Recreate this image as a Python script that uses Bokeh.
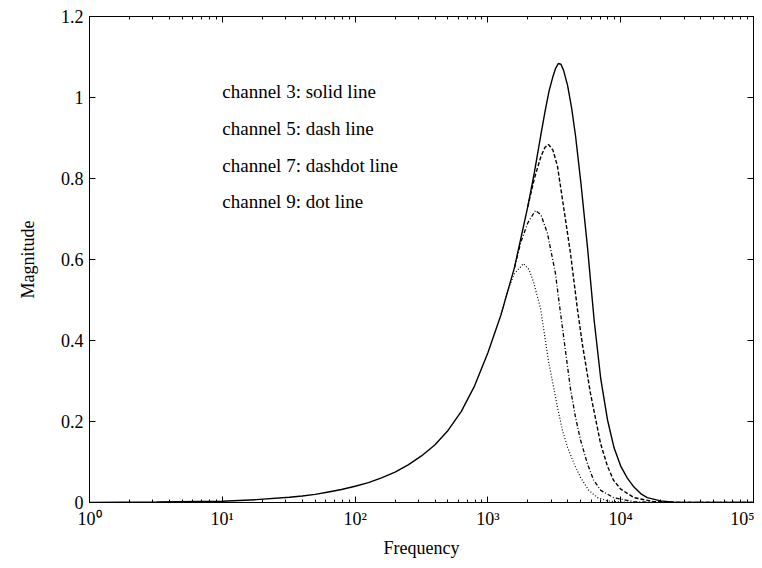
from bokeh.plotting import figure
from bokeh.models import LogAxis, LinearAxis, FixedTicker, LogTicker, CustomJSTickFormatter, Label
from bokeh.embed import file_html
from bokeh.resources import INLINE

# ---- data ----
ch3_freq = [1, 3.2, 10, 18, 32, 40, 50, 63, 79, 100, 126, 158, 200, 251, 316, 398, 501,
            631, 794, 1000, 1259, 1585, 1995, 2239, 2512, 2692, 2884, 3090, 3236, 3388,
            3548, 3715, 3981, 4266, 4571, 5012, 5623, 6310, 7079, 7943, 8913, 10000, 11220,
            12589, 14125, 15849, 19953, 25119, 39811, 100000]
ch3_mag = [0.0004, 0.0012, 0.003, 0.007, 0.013, 0.016, 0.02, 0.026, 0.032, 0.04, 0.049,
           0.061, 0.075, 0.093, 0.115, 0.142, 0.178, 0.225, 0.288, 0.37, 0.465, 0.58, 0.73,
           0.815, 0.91, 0.965, 1.015, 1.052, 1.072, 1.084, 1.082, 1.067, 1.03, 0.975, 0.905,
           0.79, 0.63, 0.45, 0.305, 0.205, 0.135, 0.09, 0.06, 0.038, 0.022, 0.012, 0.004,
           0.001, 0.0, 0.0]

ch5_freq = [1995, 2239, 2512, 2692, 2858, 3090, 3342, 3715, 4188, 4732, 5152, 5916, 7047,
            7943, 8831, 10000, 12589, 17783, 31623, 100000]
ch5_mag = [0.73, 0.80, 0.855, 0.877, 0.884, 0.87, 0.83, 0.73, 0.615, 0.475, 0.39, 0.27,
           0.146, 0.09, 0.055, 0.033, 0.012, 0.002, 0.0, 0.0]

ch7_freq = [1585, 1778, 1995, 2280, 2512, 2812, 3228, 3388, 3715, 4188, 4571, 4977, 5623,
            6237, 7079, 8831, 12589, 19953, 100000]
ch7_mag = [0.58, 0.645, 0.69, 0.721, 0.71, 0.664, 0.565, 0.51, 0.41, 0.28, 0.21, 0.155,
           0.095, 0.056, 0.03, 0.012, 0.002, 0.0, 0.0]

ch9_freq = [1259, 1413, 1585, 1854, 2042, 2203, 2489, 2858, 3342, 3631, 3981, 4467, 4977,
            5754, 6683, 7943, 10000, 15849, 100000]
ch9_mag = [0.465, 0.525, 0.565, 0.590, 0.575, 0.545, 0.48, 0.35, 0.235, 0.18, 0.136, 0.095,
           0.062, 0.03, 0.012, 0.004, 0.001, 0.0, 0.0]

x_ticks = [1, 10, 100, 1000, 10000, 100000]
x_tick_labels = ["10\u2070", "10\u00b9", "10\u00b2", "10\u00b3", "10\u2074", "10\u2075"]
y_ticks = [0, 0.2, 0.4, 0.6, 0.8, 1.0, 1.2]
y_tick_labels = ["0", "0.2", "0.4", "0.6", "0.8", "1", "1.2"]
legend_texts = ["channel 3: solid line", "channel 5: dash line",
                "channel 7: dashdot line", "channel 9: dot line"]

FONT = "Liberation Serif"

p = figure(width=754, height=564, x_axis_type="log", x_range=(1, 1e5), y_range=(0, 1.2),
           output_backend="svg", toolbar_location=None,
           x_axis_label="Frequency", y_axis_label="Magnitude",
           min_border_left=89, min_border_right=1, min_border_top=16, min_border_bottom=62)
p.grid.visible = False
p.outline_line_color = "black"
p.background_fill_color = "white"
p.border_fill_color = "white"

fmt_code = """
for (let i = 0; i < vals.length; i++) {
  if (Math.abs(tick - vals[i]) <= 1e-9 * Math.max(1, Math.abs(vals[i]))) return labels[i];
}
return '';
"""
x_fmt = CustomJSTickFormatter(args=dict(vals=x_ticks, labels=x_tick_labels), code=fmt_code)
y_fmt = CustomJSTickFormatter(args=dict(vals=y_ticks, labels=y_tick_labels), code=fmt_code)

x_ticker = LogTicker(num_minor_ticks=10)
y_ticker = FixedTicker(ticks=y_ticks)

p.xaxis.ticker = x_ticker
p.xaxis.formatter = x_fmt
p.yaxis.ticker = y_ticker
p.yaxis.formatter = y_fmt


def style_axis(ax, labels=True):
    ax.major_tick_in = 6
    ax.major_tick_out = 0
    ax.minor_tick_in = 3
    ax.minor_tick_out = 0
    ax.axis_line_color = "black"
    ax.major_tick_line_color = "black"
    ax.minor_tick_line_color = "black"
    ax.major_label_text_font = FONT
    if labels:
        ax.major_label_text_color = "black"
        ax.major_label_text_font_size = "18px"
        ax.major_label_standoff = 6
    else:
        ax.major_label_text_color = None
        ax.major_label_text_font_size = "1px"
        ax.major_label_standoff = 0
    ax.axis_label_text_font = FONT
    ax.axis_label_text_font_size = "18px"
    ax.axis_label_text_font_style = "normal"
    ax.axis_label_text_color = "black"


for ax in p.xaxis:
    style_axis(ax)
    ax.axis_label_standoff = 6
for ax in p.yaxis:
    style_axis(ax)
    ax.minor_tick_line_color = None
    ax.axis_label_standoff = 20

top = LogAxis(ticker=x_ticker, formatter=x_fmt)
style_axis(top, labels=False)
p.add_layout(top, "above")

right = LinearAxis(ticker=y_ticker, formatter=y_fmt)
style_axis(right, labels=False)
right.minor_tick_line_color = None
p.add_layout(right, "right")

p.line(ch3_freq, ch3_mag, line_color="black", line_width=1.4)
p.line(ch5_freq, ch5_mag, line_color="black", line_width=1.4, line_dash="4 2")
p.line(ch7_freq, ch7_mag, line_color="black", line_width=1.3, line_dash="4 2 1 2")
p.line(ch9_freq, ch9_mag, line_color="black", line_width=1.2, line_dash="1 2")

for i, t in enumerate(legend_texts):
    p.add_layout(Label(x=10, y=1.015 - i * 0.091, text=t, text_font=FONT,
                       text_font_size="19px", text_color="black",
                       text_baseline="middle", text_align="left"))

open("out.html", "w").write(file_html(p, INLINE))
